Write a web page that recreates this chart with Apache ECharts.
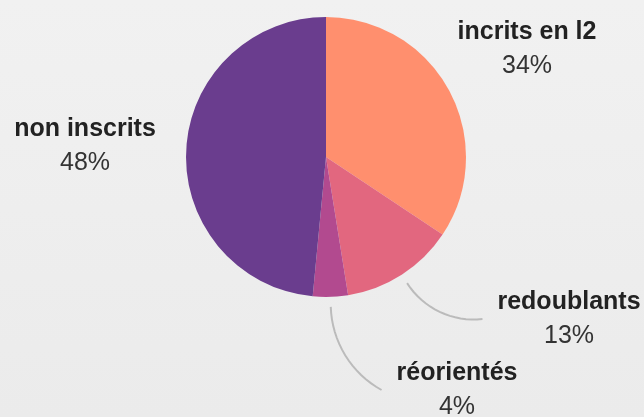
<!DOCTYPE html>
<html><head><meta charset="utf-8">
<script src="https://cdn.jsdelivr.net/npm/echarts@6/dist/echarts.min.js"></script>
<style>html,body{margin:0;padding:0;background:#eeeeee}#c{width:644px;height:417px}</style>
</head><body><div id="c"></div>
<script>
const categories = ['incrits en l2', 'redoublants', 'réorientés', 'non inscrits'];
const values = [34, 13, 4, 48];
const colors = ['#FF8F6E', '#E2677F', '#B24A8F', '#6A3D8E'];
const labelPos = [[527, 49], [569, 319], [457, 390], [85, 146]];
const lineVisible = [false, true, true, false];
const lineGap = 15;

const chart = echarts.init(document.getElementById('c'), null, {renderer: 'canvas'});
const pieData = categories.map((n, i) => ({name: n, value: values[i], itemStyle: {color: colors[i]}}));
const labelData = categories.map((n, i) => ({name: n, value: values[i], labelLine: {show: lineVisible[i]}}));

// circular arc tangent to direction d at p0, passing through p2
function arcPoints(p0, d, p2, steps) {
  const dl = Math.hypot(d[0], d[1]);
  const u = [d[0] / dl, d[1] / dl];
  const v = [p2[0] - p0[0], p2[1] - p0[1]];
  let n = [u[1], -u[0]];
  if (v[0] * n[0] + v[1] * n[1] < 0) n = [-n[0], -n[1]];
  const vn = v[0] * n[0] + v[1] * n[1];
  if (vn < 1e-6) return [p0, p2];
  const R = (v[0] * v[0] + v[1] * v[1]) / (2 * vn);
  const c = [p0[0] + n[0] * R, p0[1] + n[1] * R];
  const a0 = Math.atan2(p0[1] - c[1], p0[0] - c[0]);
  let a2 = Math.atan2(p2[1] - c[1], p2[0] - c[0]);
  let da = a2 - a0;
  while (da > Math.PI) da -= 2 * Math.PI;
  while (da < -Math.PI) da += 2 * Math.PI;
  const out = [];
  for (let k = 0; k <= steps; k++) {
    const a = a0 + da * k / steps;
    out.push([c[0] + R * Math.cos(a), c[1] + R * Math.sin(a)]);
  }
  return out;
}

const option = {
  backgroundColor: {
    type: 'linear', x: 0, y: 0, x2: 0, y2: 1,
    colorStops: [{offset: 0, color: '#f1f1f1'}, {offset: 1, color: '#ebebeb'}]
  },
  animation: false,
  series: [
    {
      type: 'pie', center: [326, 157], radius: 140, startAngle: 90, clockwise: true,
      silent: true, label: {show: false}, labelLine: {show: false}, data: pieData
    },
    {
      type: 'pie', center: [326, 157], radius: 150, startAngle: 90, clockwise: true,
      silent: true, avoidLabelOverlap: false,
      itemStyle: {color: 'rgba(0,0,0,0)'},
      data: labelData,
      label: {
        show: true, position: 'outside',
        formatter: p => '{n|' + p.name + '}\n{p|' + p.value + '%}',
        rich: {
          n: {fontFamily: 'Liberation Sans, Arial, sans-serif', fontWeight: 'bold', fontSize: 25, color: '#222222', lineHeight: 34, align: 'center'},
          p: {fontFamily: 'Liberation Sans, Arial, sans-serif', fontWeight: 'normal', fontSize: 25, color: '#333333', lineHeight: 34, align: 'center'}
        }
      },
      labelLine: {show: true, length: 20, length2: 20, smooth: false, lineStyle: {color: '#bbbbbb', width: 2}},
      labelLayout: function (params) {
        const i = params.dataIndex;
        const x = labelPos[i][0], y = labelPos[i][1];
        const w = params.labelRect.width;
        const res = {x: x, y: y, align: 'center', verticalAlign: 'middle'};
        const pts = params.labelLinePoints;
        if (pts && lineVisible[i]) {
          const p0 = pts[0];
          const d = [pts[1][0] - p0[0], pts[1][1] - p0[1]];
          const p2 = [x - w / 2 - lineGap, y];
          res.labelLinePoints = arcPoints(p0, d, p2, 16);
        }
        return res;
      }
    }
  ]
};
chart.setOption(option);
</script>
</body></html>
